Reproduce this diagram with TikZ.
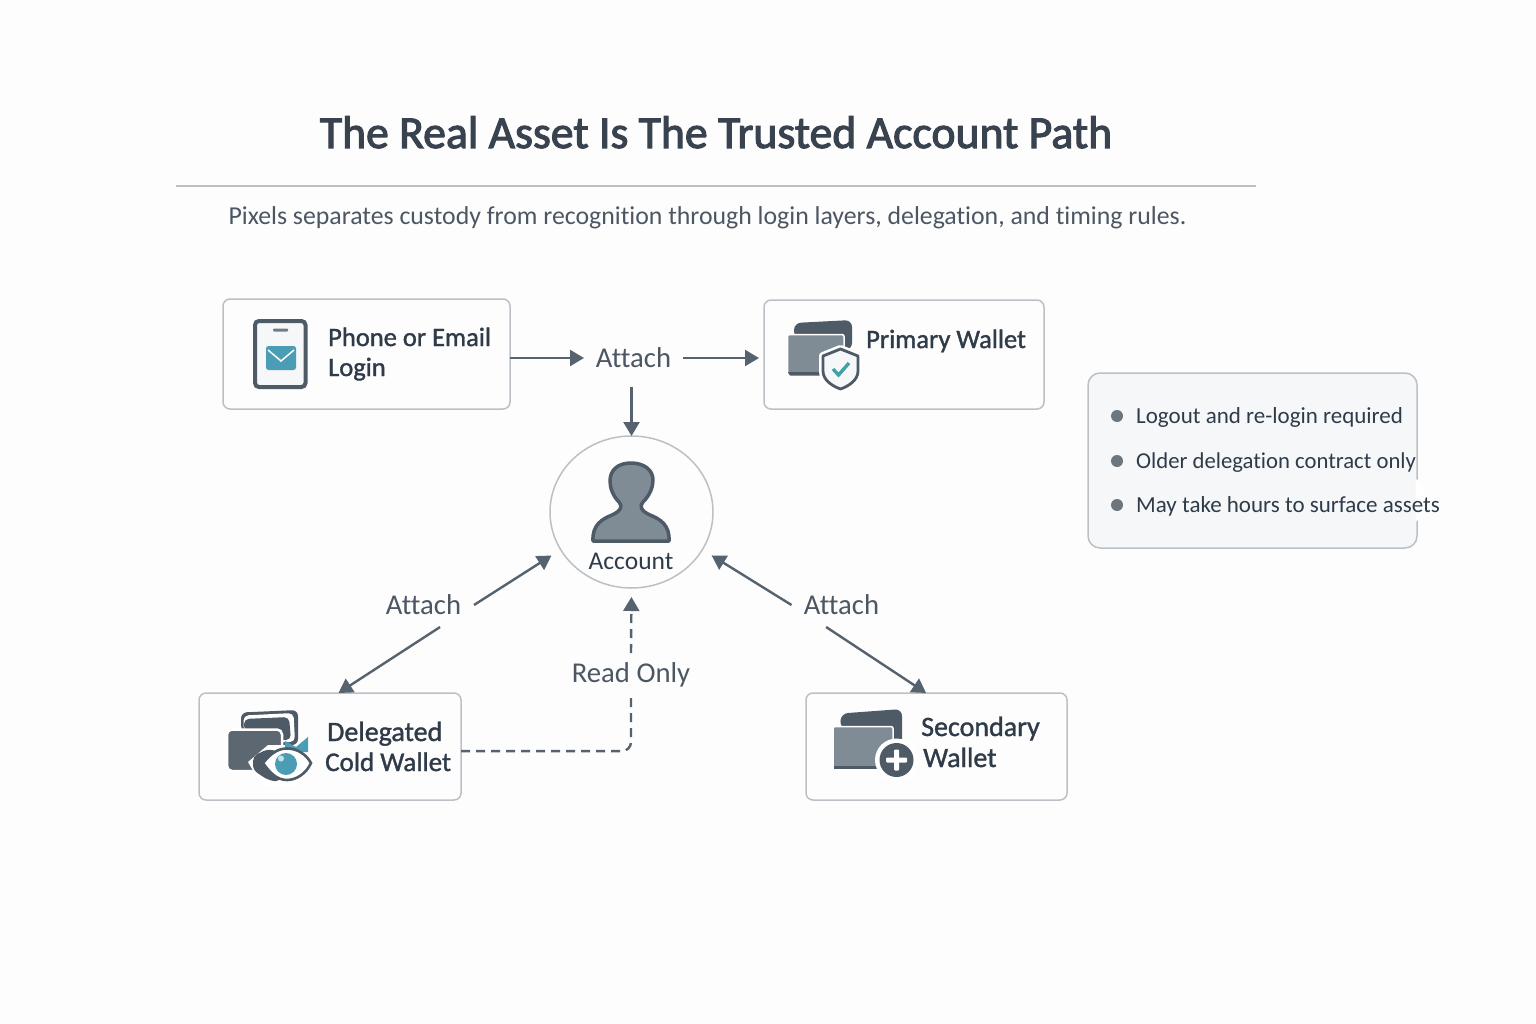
\documentclass[tikz,border=0pt]{standalone}
\usepackage{fontspec}
\setmainfont[Ligatures=NoCommon]{Carlito}
\newcommand{\heavytext}[2]{\special{pdf:code q #1 w 2 Tr}#2\special{pdf:code Q}}
\usetikzlibrary{arrows.meta,shapes.geometric,calc}
\definecolor{inkdark}{HTML}{4E5A66}
\definecolor{inkline}{HTML}{56626E}
\definecolor{cardgrey}{HTML}{7F8B95}
\definecolor{tealblue}{HTML}{4A9DB5}
\definecolor{tealcheck}{HTML}{45A0A5}
\definecolor{titleink}{HTML}{39434F}
\definecolor{nodeink}{HTML}{2F3B48}
\definecolor{subink}{HTML}{4C5763}
\definecolor{boxline}{HTML}{BBC0C6}
\definecolor{boxfill}{HTML}{FDFDFE}
\definecolor{panelfill}{HTML}{F6F7F9}
\definecolor{pagebg}{HTML}{FDFDFD}
\tikzset{
  x=1pt,y=-1pt,
  box/.style={draw=boxline,fill=boxfill,line width=1.5pt,rounded corners=7pt,inner sep=0pt,outer sep=0pt},
  nodetext/.style={anchor=base west,inner sep=0pt,font=\fontsize{27}{30}\selectfont,text=nodeink},
  edgelabel/.style={inner sep=0pt,outer sep=0pt,font=\fontsize{28.7}{32}\selectfont,text=subink,minimum height=44pt,align=center},
  bullettext/.style={anchor=base west,inner sep=0pt,font=\fontsize{23}{30}\selectfont,text=nodeink},
  bulletdot/.style={circle,fill=cardgrey!85!black,inner sep=0pt,minimum size=12pt},
  conn/.style={draw=inkline,line width=2.4pt,-{Triangle[length=14pt,width=16pt]}},
  connd/.style={conn,dash pattern=on 9pt off 6pt},
}
\begin{document}
\begin{tikzpicture}
\useasboundingbox (0,0) rectangle (1536,1024);
\fill[pagebg] (0,0) rectangle (1536,1024);

% title
\node[anchor=base,inner sep=0pt,font=\fontsize{45.7}{50}\selectfont,text=titleink] (title) at (716,148) {\heavytext{1.1}{The Real Asset Is The Trusted Account Path}};
\draw[boxline,line width=1.3pt] (176,186) -- (1256,186);
\node[anchor=base,inner sep=0pt,font=\fontsize{25.8}{30}\selectfont,text=subink] (subtitle) at (707.5,225) {Pixels separates custody from recognition through login layers, delegation, and timing rules.};

% labels
\node[edgelabel,minimum width=99pt] (attachtop) at (633.5,358) {Attach};
\node[edgelabel,minimum width=101pt] (attachleft) at (423.5,605) {Attach};
\node[edgelabel,minimum width=100pt] (attachright) at (841.5,605) {Attach};
\node[edgelabel,minimum width=130pt,minimum height=44pt] (readonly) at (631,675) {Read Only};

% main nodes
\node[box,minimum width=287pt,minimum height=110pt] (login) at (366.5,354) {};
\node[box,minimum width=280pt,minimum height=109pt] (primary) at (904,354.5) {};
\node[box,minimum width=262pt,minimum height=107pt] (delegated) at (330,746.5) {};
\node[box,minimum width=261pt,minimum height=107pt] (secondary) at (936.5,746.5) {};
\node[ellipse,draw=boxline,fill=boxfill,line width=1.5pt,inner sep=0pt,outer sep=0pt,minimum width=163pt,minimum height=152pt] (account) at (631.5,512) {};

% connectors
\draw[conn] (login.east |- attachtop) -- (attachtop.west);
\draw[conn,shorten >=5pt] (attachtop.east) -- (primary.west |- attachtop);
\draw[conn,shorten <=7pt] (attachtop.south -| account.north) -- (account.north);
\draw[conn,shorten >=11pt] (attachleft.east) -- (account.208);
\draw[conn] (attachleft.-53) -- (delegated.81);
\draw[conn,shorten >=11pt] (attachright.west) -- (account.-28);
\draw[conn] (attachright.235) -- (secondary.101);
\draw[draw=inkline,line width=2.4pt,dash pattern=on 9pt off 6pt,rounded corners=9pt] (delegated.-2.8) -- (readonly.south |- delegated.-2.8) -- (readonly.south);
\draw[connd,shorten >=9pt] (readonly.north) -- (account.south);

% node texts
\node[nodetext,font=\fontsize{26.5}{30}\selectfont] (logintext1) at (328,346) {\heavytext{0.35}{Phone or Email}};
\node[nodetext,font=\fontsize{26.5}{30}\selectfont] (logintext2) at (328,376) {\heavytext{0.35}{Login}};
\node[nodetext,font=\fontsize{26.5}{30}\selectfont] (primarytext) at (866,348) {\heavytext{0.35}{Primary Wallet}};
\node[nodetext,font=\fontsize{28}{30}\selectfont] (deltext1) at (327,741) {\heavytext{0.35}{Delegated}};
\node[nodetext] (deltext2) at (325,771) {\heavytext{0.35}{Cold Wallet}};
\node[nodetext,font=\fontsize{28}{30}\selectfont] (sectext1) at (921,736) {\heavytext{0.35}{Secondary}};
\node[nodetext,font=\fontsize{28}{30}\selectfont] (sectext2) at (923,767) {\heavytext{0.35}{Wallet}};
\node[anchor=base,inner sep=0pt,font=\fontsize{25.5}{30}\selectfont,text=nodeink] (accounttext) at (631,569) {Account};

% person
\draw[fill=cardgrey,draw=inkdark,line width=3.5pt,line join=round]
 (593,541) -- (669,541) .. controls (670,525) and (660,519) .. (650,515)
 .. controls (641,511) and (639,506) .. (643,502)
 .. controls (650,495) and (653,487) .. (653,480)
 .. controls (653,470) and (644,463) .. (631,463)
 .. controls (618,463) and (610,470) .. (610,481)
 .. controls (610,488) and (613,496) .. (619,502)
 .. controls (623,506) and (621,511) .. (612,515)
 .. controls (602,519) and (592,525) .. (593,541) -- cycle;

% phone icon
\draw[fill=panelfill,draw=inkdark,line width=4pt,rounded corners=4pt] (255,321) rectangle (305.5,387);
\fill[inkdark!80,rounded corners=1pt] (273,328.5) rectangle (288,331.5);
\fill[tealblue,rounded corners=2.5pt] (266,346) rectangle (296,370);
\draw[white,line width=1.5pt] (268,350) -- (281,361) -- (294,350);

% primary wallet icon
\fill[inkdark,rounded corners=7pt] (794,338) -- (794,323) -- (852,320) -- (852,350) -- (830,350) -- cycle;
\fill[cardgrey,rounded corners=2pt,draw=white,line width=1.5pt] (787.5,334.5) -- (844,334.5) -- (844,375.5) -- (787.5,375.5) -- cycle;
\fill[inkdark] (788,372) -- (822,372) -- (822,375.5) -- (790,375.5) -- cycle;
\path[fill=white,draw=white,line width=8pt,line join=round] (840.5,349) -- (858,356) -- (858,371) .. controls (858,380) and (849,386) .. (840.5,389) .. controls (832,386) and (823,380) .. (823,371) -- (823,356) -- cycle;
\draw[fill=panelfill,draw=inkdark,line width=2.8pt,line join=round] (840.5,349) -- (858,356) -- (858,371) .. controls (858,380) and (849,386) .. (840.5,389) .. controls (832,386) and (823,380) .. (823,371) -- (823,356) -- cycle;
\draw[tealcheck,line width=3.4pt] (833,369) -- (838.5,375) -- (849,363);

% delegated icon
\fill[inkdark,rounded corners=6pt] (241,731) -- (241,712.5) -- (298,710) -- (298,745) -- (270,745) -- cycle;
\fill[white,rounded corners=5pt] (243.5,731) -- (243.5,715.5) -- (293.5,713) -- (295,742) -- (270,742) -- cycle;
\fill[inkdark,rounded corners=5pt] (244,731) -- (244,719) -- (289,717) -- (291,740) -- (270,740) -- cycle;
\draw[fill=inkdark!92!white,draw=white,line width=2.5pt,rounded corners=5pt] (227,729.5) -- (282,729.5) -- (282,771) -- (227,771) -- cycle;
\path[fill=white] (248,762) -- (268,745) -- (305,745) -- (316,762) -- (300,786) -- (262,786) -- cycle;
\fill[tealblue] (285,741) -- (296,747) -- (308,737) -- (308,752) -- (285,752) -- cycle;
\fill[inkdark,rounded corners=5pt] (253,756) -- (268,749) -- (280,752) -- (280,782) -- (268,780) -- (253,770) -- cycle;
\draw[fill=white,draw=inkdark,line width=2.6pt] (263,763) .. controls (272,752) and (279,748.5) .. (287,748.5) .. controls (297,748.5) and (306,754) .. (311,763) .. controls (306,774) and (296,780) .. (287,780) .. controls (277,780) and (270,773) .. (263,763) -- cycle;
\fill[tealblue] (286,764) circle[radius=11pt];
\fill[white!70!tealblue] (281,758.5) circle[radius=3pt];

% secondary icon
\fill[inkdark,rounded corners=7pt] (840,728) -- (841,713.5) -- (902,709) -- (902,746) -- (880,746) -- cycle;
\fill[cardgrey,rounded corners=2pt,draw=white,line width=1.5pt] (833,726.5) -- (893,726.5) -- (893,769) -- (833,769) -- cycle;
\fill[inkdark] (834,765.5) -- (878,765.5) -- (878,769) -- (834,769) -- cycle;
\fill[white] (896.5,760) circle[radius=21.5pt];
\fill[inkdark] (896.5,760) circle[radius=17pt];
\fill[white,rounded corners=1pt] (886,757.5) rectangle (907,762.5);
\fill[white,rounded corners=1pt] (894,749.5) rectangle (899,770.5);

% note panel
\node[box,fill=panelfill,rounded corners=12pt,minimum width=329pt,minimum height=175pt] (panel) at (1252.5,460.5) {};
\fill[white] (1415.5,479) .. controls (1424,482) and (1426,490) .. (1425,500) .. controls (1425,510) and (1422,518) .. (1415.5,522) -- cycle;
\node[bulletdot] (dot1) at (1117,416) {};
\node[bulletdot] (dot2) at (1117,461) {};
\node[bulletdot] (dot3) at (1117,505) {};
\node[bullettext] (note1) at (1136,423) {Logout and re-login required};
\node[bullettext,font=\fontsize{22.7}{30}\selectfont] (note2) at (1136,468) {Older delegation contract only};
\node[bullettext] (note3) at (1136,512) {May take hours to surface assets};
\end{tikzpicture}
\end{document}
